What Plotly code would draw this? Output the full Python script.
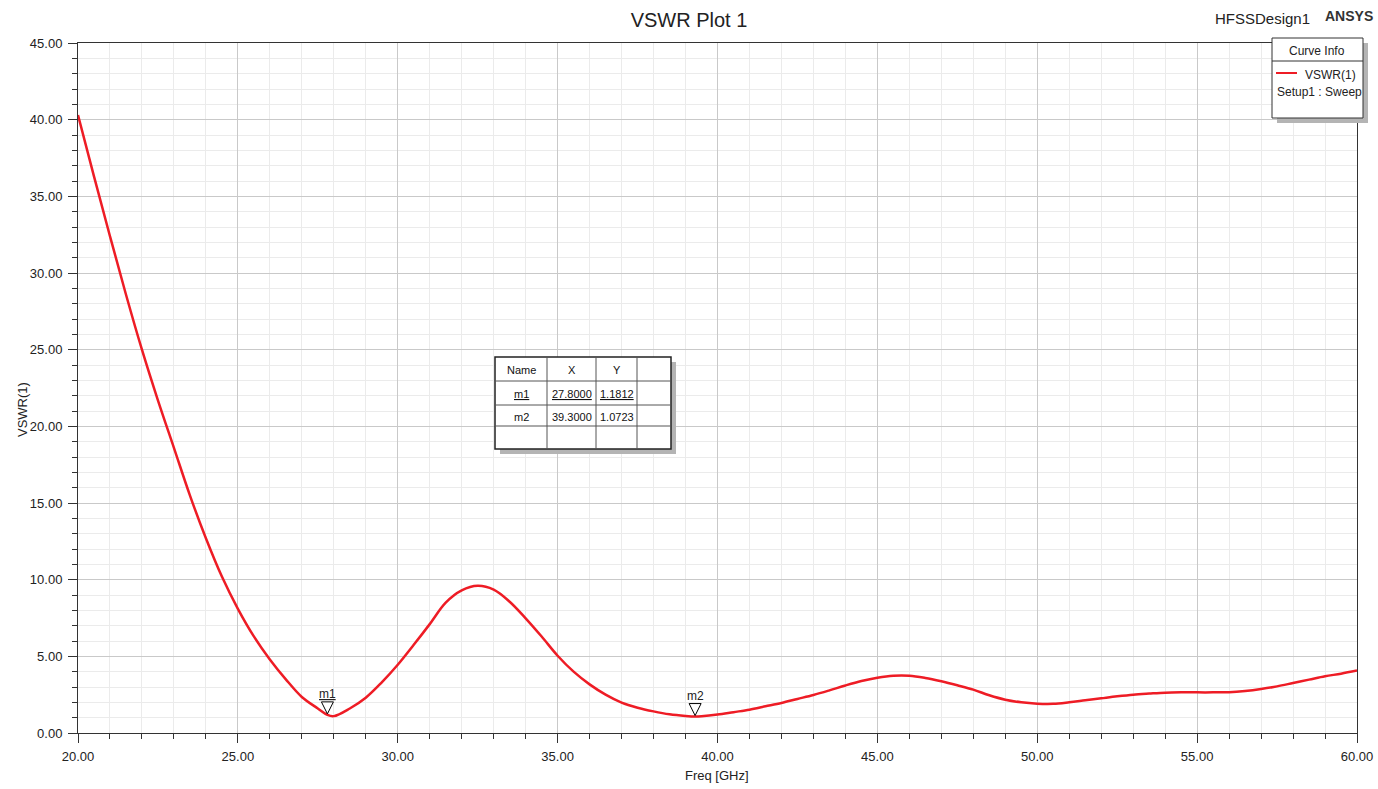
import plotly.graph_objects as go

# ---------------- data ----------------
freq_ghz = [20, 20.5, 21, 21.5, 22, 22.5, 23, 23.5, 24, 24.5, 25, 25.5, 26, 26.5, 27, 27.5,
            27.8, 28.0, 28.5, 29, 29.5, 30, 30.5, 31, 31.5, 32, 32.5, 33, 33.5, 34, 34.5,
            35, 35.5, 36, 36.5, 37, 37.5, 38, 38.5, 39, 39.3, 39.5, 40, 40.5, 41, 41.5,
            42, 42.5, 43, 43.5, 44, 44.5, 45, 45.5, 46, 46.5, 47, 47.5, 48, 48.5, 49,
            49.5, 50, 50.5, 51, 51.5, 52, 52.5, 53, 53.5, 54, 54.5, 55, 55.5, 56, 56.5,
            57, 57.5, 58, 58.5, 59, 59.5, 60]
vswr = [40.3, 36.3, 32.4, 28.6, 25.0, 21.7, 18.6, 15.5, 12.7, 10.2, 8.1, 6.3, 4.8, 3.5, 2.35, 1.6,
        1.1812, 1.1, 1.6, 2.3, 3.3, 4.45, 5.75, 7.1, 8.5, 9.3, 9.6, 9.35, 8.56, 7.48, 6.29,
        5.04, 4.0, 3.17, 2.5, 1.98, 1.65, 1.41, 1.22, 1.11, 1.0723, 1.09, 1.2, 1.36, 1.52, 1.74,
        1.96, 2.22, 2.48, 2.78, 3.1, 3.39, 3.61, 3.74, 3.74, 3.59, 3.37, 3.11, 2.83, 2.46, 2.17,
        2.0, 1.91, 1.9, 2.0, 2.13, 2.26, 2.39, 2.5, 2.57, 2.63, 2.65, 2.65, 2.65, 2.66, 2.74,
        2.87, 3.04, 3.26, 3.48, 3.7, 3.87, 4.07]

marker_names = ["m1", "m2"]
marker_x = [27.8, 39.3]
marker_y = [1.1812, 1.0723]

x_ticks = [20, 25, 30, 35, 40, 45, 50, 55, 60]
y_ticks = [0, 5, 10, 15, 20, 25, 30, 35, 40, 45]

# ---------------- layout geometry (pixels) ----------------
W, H = 1378, 789
L, R, T, B = 78, 1357, 43, 733
PW, PH = R - L, B - T


def px(x):
    return (x - L) / PW


def py(y):
    return (B - y) / PH


FONT = "Arial, Liberation Sans, sans-serif"
RED = "#ee1c25"

fig = go.Figure()
fig.add_trace(go.Scatter(x=freq_ghz, y=vswr, mode="lines",
                         line=dict(color=RED, width=2.5, shape="spline", smoothing=1.0),
                         showlegend=False, hoverinfo="x+y"))

shapes = []
annotations = []

# markers: triangles with tip on the curve + labels
for i, (nm, mx, my) in enumerate(zip(marker_names, marker_x, marker_y)):
    shapes.append(dict(type="path", xref="x", yref="y", xsizemode="pixel", ysizemode="pixel",
                       xanchor=mx, yanchor=my, path="M-6,13 L6,13 L0,1 Z",
                       line=dict(color="#000000", width=1), fillcolor="white", layer="above"))
    label = "<u>%s</u>" % nm if i == 0 else nm
    annotations.append(dict(x=mx, y=my, xref="x", yref="y", text=label, showarrow=False,
                            yshift=21, font=dict(family=FONT, size=12, color="#222222")))

# title-side texts
annotations += [
    dict(x=px(1262), y=py(18), xref="paper", yref="paper", text="HFSSDesign1",
         showarrow=False, font=dict(family=FONT, size=15, color="#222222"),
         xanchor="center", yanchor="middle"),
    dict(x=px(1349), y=py(16), xref="paper", yref="paper", text="<b>ANSYS</b>",
         showarrow=False, font=dict(family=FONT, size=14, color="#333333"),
         xanchor="center", yanchor="middle"),
]

# axis titles
annotations.append(dict(x=px(717), y=py(775), xref="paper", yref="paper", text="Freq [GHz]",
                        showarrow=False, font=dict(family=FONT, size=13, color="#222222"),
                        xanchor="center", yanchor="middle"))
annotations.append(dict(x=px(22), y=py(410), xref="paper", yref="paper", text="VSWR(1)",
                        showarrow=False, textangle=-90,
                        font=dict(family=FONT, size=13, color="#222222"),
                        xanchor="center", yanchor="middle"))

# ---- Curve Info legend box ----
bx0, bx1, by0, by1 = 1272, 1363, 38, 118
shapes.append(dict(type="rect", xref="paper", yref="paper", x0=px(bx0 + 5), x1=px(bx1 + 5),
                   y0=py(by1 + 5), y1=py(by0 + 5), line=dict(width=0), fillcolor="#b4b4b4"))
shapes.append(dict(type="rect", xref="paper", yref="paper", x0=px(bx0), x1=px(bx1),
                   y0=py(by1), y1=py(by0), line=dict(color="#333333", width=1), fillcolor="white"))
shapes.append(dict(type="line", xref="paper", yref="paper", x0=px(bx0), x1=px(bx1),
                   y0=py(61), y1=py(61), line=dict(color="#333333", width=1)))
shapes.append(dict(type="line", xref="paper", yref="paper", x0=px(1276), x1=px(1297),
                   y0=py(73), y1=py(73), line=dict(color=RED, width=2)))
annotations.append(dict(x=px(1317), y=py(51), xref="paper", yref="paper", text="Curve Info",
                        showarrow=False, font=dict(family=FONT, size=12, color="#222222"),
                        xanchor="center", yanchor="middle"))
annotations.append(dict(x=px(1358), y=py(75), xref="paper", yref="paper", text="VSWR(1)",
                        showarrow=False, font=dict(family=FONT, size=12, color="#222222"),
                        xanchor="right", yanchor="middle"))
annotations.append(dict(x=px(1275), y=py(92), xref="paper", yref="paper", text="Setup1 : Sweep",
                        showarrow=False, font=dict(family=FONT, size=12, color="#222222"),
                        xanchor="left", yanchor="middle"))

# ---- marker table ----
tx0, tx1, ty0, ty1 = 495, 671, 357, 449
col_edges = [495, 547, 596, 637, 671]
row_edges = [357, 381, 405, 426, 449]
shapes.append(dict(type="rect", xref="paper", yref="paper", x0=px(tx0 + 5), x1=px(tx1 + 5),
                   y0=py(ty1 + 5), y1=py(ty0 + 5), line=dict(width=0), fillcolor="#b4b4b4"))
shapes.append(dict(type="rect", xref="paper", yref="paper", x0=px(tx0), x1=px(tx1),
                   y0=py(ty1), y1=py(ty0), line=dict(color="#222222", width=1.5), fillcolor="white"))
for cx in col_edges[1:-1]:
    shapes.append(dict(type="line", xref="paper", yref="paper", x0=px(cx), x1=px(cx),
                       y0=py(ty1), y1=py(ty0), line=dict(color="#555555", width=1)))
for ry in row_edges[1:-1]:
    shapes.append(dict(type="line", xref="paper", yref="paper", x0=px(tx0), x1=px(tx1),
                       y0=py(ry), y1=py(ry), line=dict(color="#555555", width=1)))

table_rows = [["Name", "X", "Y"]]
for i, (nm, mx, my) in enumerate(zip(marker_names, marker_x, marker_y)):
    cells = [nm, "%.4f" % mx, "%.4f" % my]
    if i == 0:
        cells = ["<u>%s</u>" % c for c in cells]
    table_rows.append(cells)
for r, cells in enumerate(table_rows):
    yc = (row_edges[r] + row_edges[r + 1]) / 2 + 1
    for c, txt in enumerate(cells):
        xc = (col_edges[c] + col_edges[c + 1]) / 2
        annotations.append(dict(x=px(xc), y=py(yc), xref="paper", yref="paper", text=txt,
                                showarrow=False, font=dict(family=FONT, size=11, color="#111111"),
                                xanchor="center", yanchor="middle"))

axis_common = dict(
    showline=True, linecolor="#333333", linewidth=1, mirror=True,
    ticks="outside", ticklen=9, tickwidth=1, tickcolor="#333333",
    showgrid=True, gridcolor="#c9c9c9", gridwidth=1, zeroline=False,
    tickfont=dict(family=FONT, size=13, color="#222222"),
    tickformat=".2f", automargin=False,
)

fig.update_layout(
    width=W, height=H,
    margin=dict(l=L, r=W - R, t=T, b=H - B, autoexpand=False),
    paper_bgcolor="white", plot_bgcolor="white",
    title=dict(text="VSWR Plot 1", x=0.5, xref="container", xanchor="center",
               y=1 - 20 / H, yref="container", yanchor="middle",
               font=dict(family=FONT, size=20, color="#222222")),
    xaxis=dict(range=[20, 60], tickvals=x_ticks,
               minor=dict(dtick=1, ticks="outside", ticklen=5, tickcolor="#333333",
                          showgrid=True, gridcolor="#ebebeb"),
               ticklabelstandoff=2, **axis_common),
    yaxis=dict(range=[0, 45], tickvals=y_ticks,
               minor=dict(dtick=1, ticks="outside", ticklen=5, tickcolor="#333333",
                          showgrid=True, gridcolor="#ebebeb"),
               ticklabelstandoff=3, **axis_common),
    shapes=shapes,
    annotations=annotations,
    showlegend=False,
)

fig.write_html("out.html", config={"displayModeBar": False},
               post_script="document.body.style.margin='0';document.body.style.overflow='hidden';")
